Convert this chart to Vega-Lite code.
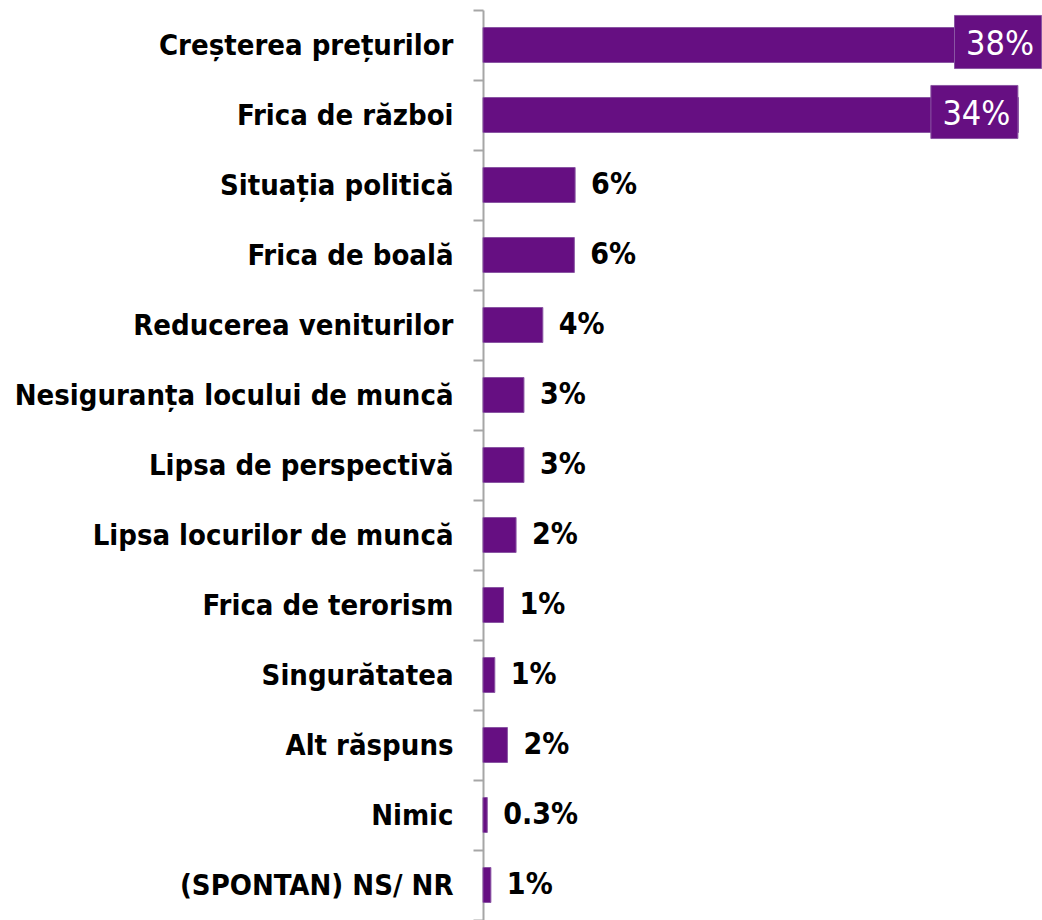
{
  "$schema": "https://vega.github.io/schema/vega-lite/v6.json",
  "autosize": "none",
  "padding": {"left": 483, "top": 10, "right": 0, "bottom": 0},
  "width": 559,
  "height": 910,
  "background": "white",
  "config": {"view": {"stroke": null}},
  "data": {
    "values": [
      {"cat": "Creșterea prețurilor", "value": 38, "label": "38%"},
      {"cat": "Frica de război", "value": 34, "label": "34%"},
      {"cat": "Situația politică", "value": 5.85, "label": "6%"},
      {"cat": "Frica de boală", "value": 5.8, "label": "6%"},
      {"cat": "Reducerea veniturilor", "value": 3.8, "label": "4%"},
      {"cat": "Nesiguranța locului de muncă", "value": 2.6, "label": "3%"},
      {"cat": "Lipsa de perspectivă", "value": 2.6, "label": "3%"},
      {"cat": "Lipsa locurilor de muncă", "value": 2.1, "label": "2%"},
      {"cat": "Frica de terorism", "value": 1.3, "label": "1%"},
      {"cat": "Singurătatea", "value": 0.75, "label": "1%"},
      {"cat": "Alt răspuns", "value": 1.55, "label": "2%"},
      {"cat": "Nimic", "value": 0.27, "label": "0.3%"},
      {"cat": "(SPONTAN) NS/ NR", "value": 0.5, "label": "1%"}
    ]
  },
  "encoding": {
    "y": {
      "field": "cat",
      "type": "nominal",
      "sort": null,
      "scale": {"paddingInner": 0, "paddingOuter": 0},
      "axis": {
        "title": null,
        "domainColor": "#a6a6a6",
        "domainWidth": 2,
        "tickColor": "#a6a6a6",
        "tickWidth": 2,
        "tickSize": 10,
        "tickBand": "extent",
        "labelFont": "DejaVu Sans Condensed",
        "labelFontSize": 29,
        "labelFontWeight": "bold",
        "labelColor": "black",
        "labelPadding": 20,
        "labelLimit": 0
      }
    },
    "x": {
      "field": "value",
      "type": "quantitative",
      "scale": {"domain": [0, 35.5], "clamp": true, "nice": false},
      "axis": null
    }
  },
  "layer": [
    {
      "mark": {"type": "bar", "color": "#660f82", "stroke": "#8a55a3", "strokeWidth": 1, "height": {"band": 0.5}}
    },
    {
      "transform": [{"filter": "datum.value > 20"}],
      "mark": {
        "type": "point",
        "shape": "M-1,-0.61L1,-0.61L1,0.61L-1,0.61Z",
        "size": 7569,
        "filled": true,
        "fill": "#660f82",
        "stroke": "#8a55a3",
        "strokeWidth": 1,
        "opacity": 1,
        "xOffset": -44,
        "yOffset": -3
      }
    },
    {
      "transform": [{"filter": "datum.value > 20"}],
      "mark": {
        "type": "text",
        "align": "right",
        "baseline": "middle",
        "dx": -8,
        "color": "white",
        "font": "DejaVu Sans Condensed",
        "fontSize": 34
      },
      "encoding": {"text": {"field": "label"}}
    },
    {
      "transform": [{"filter": "datum.value <= 20"}],
      "mark": {
        "type": "text",
        "align": "left",
        "baseline": "middle",
        "dx": 16,
        "color": "black",
        "font": "DejaVu Sans Condensed",
        "fontWeight": "bold",
        "fontSize": 30
      },
      "encoding": {"text": {"field": "label"}}
    }
  ]
}
